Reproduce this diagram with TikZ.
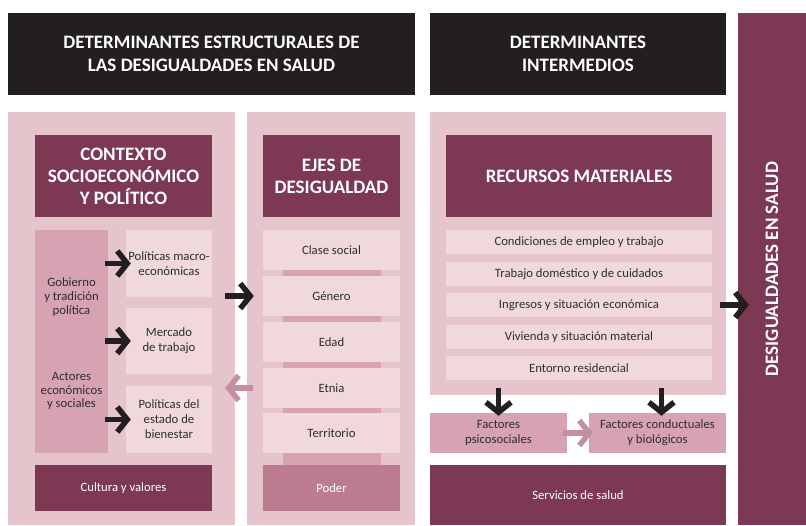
\documentclass[tikz,border=0pt]{standalone}
\usepackage{fontspec}
\setmainfont{Carlito}
\usetikzlibrary{arrows.meta}
\definecolor{negro}{HTML}{231F20}
\definecolor{granate}{HTML}{7D3853}
\definecolor{rosaclaro}{HTML}{E6C4CC}
\definecolor{rosapalido}{HTML}{F0D8DD}
\definecolor{rosamedio}{HTML}{D7A2B1}
\definecolor{rosaoscuro}{HTML}{BC7B8F}
\definecolor{texto}{HTML}{2E2E2E}
\begin{document}
\begin{tikzpicture}[x=1pt,y=-1pt]
\tikzstyle{head}=[fill=negro,text=white,font=\fontsize{19}{23}\selectfont\bfseries,align=center,inner sep=0pt]
\tikzstyle{panel}=[fill=rosaclaro,inner sep=0pt]
\tikzstyle{title}=[fill=granate,text=white,font=\fontsize{19}{22}\selectfont\bfseries,align=center,inner sep=0pt]
\tikzstyle{cell}=[fill=rosapalido,text=texto,font=\fontsize{12.7}{15}\selectfont,align=center,inner sep=0pt]
\tikzstyle{lbl}=[text=texto,font=\fontsize{12.7}{13.8}\selectfont,align=center,inner sep=0pt]
\tikzstyle{arrow}=[draw=negro,line width=5.5pt,-{Straight Barb[length=10pt,width=25pt]}]
\tikzstyle{parrow}=[arrow,draw=rosaoscuro!85]
\useasboundingbox (0,0) rectangle (806,525);
% cabeceras
\node[head,minimum width=407,minimum height=82](estruct) at (211.5,54){DETERMINANTES ESTRUCTURALES DE\\LAS DESIGUALDADES EN SALUD};
\node[head,minimum width=296,minimum height=82](interm) at (578,54){DETERMINANTES\\INTERMEDIOS};
\node[title,minimum width=68,minimum height=512](salud) at (772,269){};
\node[rotate=90,text=white,font=\fontsize{19}{22}\selectfont\bfseries](saludtxt) at (salud.center){DESIGUALDADES EN SALUD};
% paneles
\node[panel,minimum width=227,minimum height=413](panelL) at (121.5,318.5){};
\node[panel,minimum width=168,minimum height=413](panelM) at (331,318.5){};
\node[panel,minimum width=296,minimum height=283](panelR) at (578,253.5){};
% contexto
\node[title,minimum width=177,minimum height=82](contexto) at (123.5,176){CONTEXTO\\SOCIOECONÓMICO\\Y POLÍTICO};
\node[cell,fill=rosamedio,minimum width=73,minimum height=223](gob) at (71.5,341.5){};
\node[lbl](gobA) at (71.5,297){Gobierno\\y tradición\\política};
\node[lbl](gobB) at (71.5,391){Actores\\económicos\\y sociales};
\node[cell,minimum width=86,minimum height=67](macro) at (169,263.5){Políticas macro-\\económicas};
\node[cell,minimum width=86,minimum height=66](mercado) at (169,341){Mercado\\de trabajo};
\node[cell,minimum width=86,minimum height=67](estado) at (169,419.5){Políticas del\\estado de\\bienestar};
\node[title,font=\fontsize{12.7}{15}\selectfont,minimum width=177,minimum height=46](cultura) at (123.5,488){Cultura y valores};
% ejes
\fill[rosamedio](283,265) rectangle (381,465);
\node[title,minimum width=137,minimum height=82](ejes) at (331.5,176){EJES DE\\DESIGUALDAD};
\node[cell,minimum width=137,minimum height=40](clase) at (331.5,250){Clase social};
\node[cell,minimum width=137,minimum height=40](genero) at (331.5,296){Género};
\node[cell,minimum width=137,minimum height=40](edad) at (331.5,342){Edad};
\node[cell,minimum width=137,minimum height=40](etnia) at (331.5,388){Etnia};
\node[cell,minimum width=137,minimum height=40](territorio) at (331.5,433){Territorio};
\node[cell,fill=rosaoscuro,text=white,minimum width=137,minimum height=46](poder) at (331.5,488){Poder};
% recursos
\node[title,minimum width=266,minimum height=82](recursos) at (579,176){RECURSOS MATERIALES};
\node[cell,minimum width=266,minimum height=24](empleo) at (579,242){Condiciones de empleo y trabajo};
\node[cell,minimum width=266,minimum height=24](domestico) at (579,274){Trabajo doméstico y de cuidados};
\node[cell,minimum width=266,minimum height=24](ingresos) at (579,305){Ingresos y situación económica};
\node[cell,minimum width=266,minimum height=24](vivienda) at (579,337){Vivienda y situación material};
\node[cell,minimum width=266,minimum height=24](entorno) at (579,368){Entorno residencial};
\node[cell,fill=rosamedio,minimum width=137,minimum height=40](psico) at (498.5,433){Factores\\psicosociales};
\node[cell,fill=rosamedio,minimum width=137,minimum height=40](conduct) at (657.5,433){Factores conductuales\\y biológicos};
\node[title,font=\fontsize{12.7}{15}\selectfont,minimum width=296,minimum height=60](servicios) at (578,495){Servicios de salud};
% flechas
\draw[arrow]([xshift=-3pt]gob.east|-macro.west)--([xshift=5pt]macro.west);
\draw[arrow]([xshift=-3pt]gob.east|-mercado.west)--([xshift=5pt]mercado.west);
\draw[arrow]([xshift=-3pt]gob.east|-estado.west)--([xshift=5pt]estado.west);
\draw[arrow]([xshift=-10pt]panelL.east|-genero.west)--([xshift=7pt]panelM.west|-genero.west);
\draw[parrow]([xshift=6pt]panelM.west|-etnia.west)--([xshift=-10pt]panelL.east|-etnia.west);
\draw[arrow]([xshift=-6pt]panelR.east|-ingresos.east)--([xshift=11pt]salud.west|-ingresos.east);
\draw[arrow]([yshift=7pt]psico.north|-panelR.south)--([yshift=-3pt]psico.north);
\draw[arrow]([yshift=7pt,xshift=4pt]conduct.north|-panelR.south)--([yshift=-3pt,xshift=4pt]conduct.north);
\draw[parrow]([xshift=-4pt]psico.east)--([xshift=4pt]conduct.west);
\end{tikzpicture}
\end{document}
